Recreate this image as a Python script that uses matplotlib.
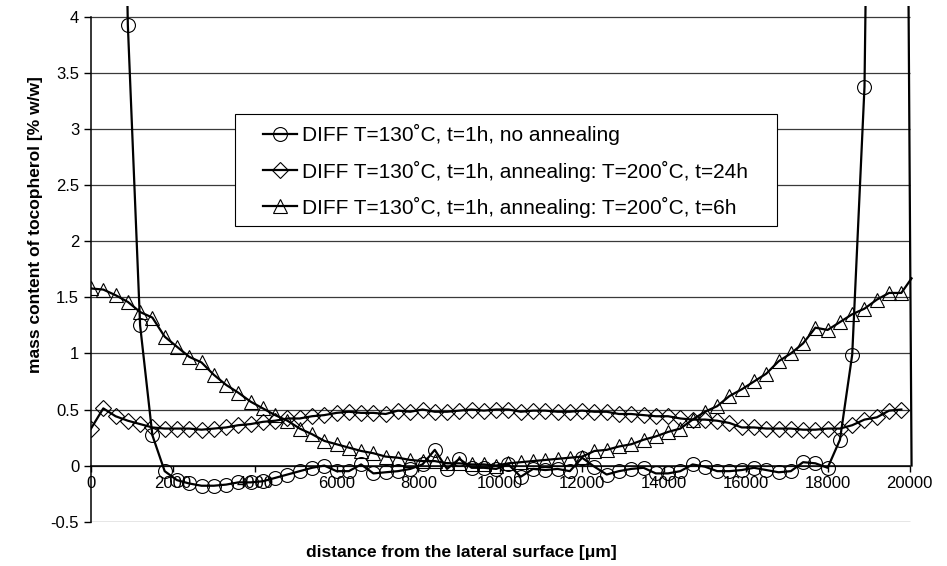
import numpy as np
import matplotlib
matplotlib.use("Agg")
import matplotlib.pyplot as plt
from matplotlib.lines import Line2D
from matplotlib.patches import Rectangle

plt.rcParams['font.family'] = ['Liberation Sans', 'DejaVu Sans']
plt.rcParams['axes.unicode_minus'] = False

# distance from the lateral surface [um], one sample every 300 um
distance = [0, 300, 600, 900, 1200, 1500, 1800, 2100, 2400, 2700, 3000, 3300,
            3600, 3900, 4200, 4500, 4800, 5100, 5400, 5700, 6000, 6300, 6600,
            6900, 7200, 7500, 7800, 8100, 8400, 8700, 9000, 9300, 9600, 9900,
            10200, 10500, 10800, 11100, 11400, 11700, 12000, 12300, 12600,
            12900, 13200, 13500, 13800, 14100, 14400, 14700, 15000, 15300,
            15600, 15900, 16200, 16500, 16800, 17100, 17400, 17700, 18000,
            18300, 18600, 18900, 19200, 19500, 19800]

# no annealing (values above 4 are off the scale, estimated)
no_annealing = [np.nan, np.nan, 10.0, 3.93, 1.25, 0.27, -0.05, -0.13, -0.16, -0.18,
                -0.18, -0.17, -0.15, -0.15, -0.14, -0.11, -0.08, -0.05, -0.02,
                0.00, -0.05, -0.05, 0.01, -0.07, -0.06, -0.05, -0.03, 0.01, 0.14,
                -0.03, 0.06, -0.02, -0.02, -0.03, 0.01, -0.10, -0.03, -0.04,
                -0.03, -0.05, 0.07, -0.01, -0.08, -0.05, -0.03, -0.02, -0.07,
                -0.07, -0.05, 0.01, -0.01, -0.05, -0.05, -0.04, -0.02, -0.04,
                -0.06, -0.05, 0.03, 0.02, -0.02, 0.23, 0.99, 3.38, 12.0, 20.0,
                14.0]

# annealing 200 C, 24 h
anneal_24h = [0.33, 0.51, 0.44, 0.40, 0.37, 0.34, 0.33, 0.33, 0.33, 0.32, 0.33,
              0.34, 0.36, 0.37, 0.39, 0.40, 0.42, 0.42, 0.44, 0.45, 0.47, 0.48,
              0.47, 0.47, 0.46, 0.49, 0.48, 0.50, 0.48, 0.48, 0.49, 0.50, 0.49,
              0.50, 0.50, 0.48, 0.49, 0.49, 0.48, 0.48, 0.49, 0.48, 0.48, 0.46,
              0.46, 0.45, 0.44, 0.44, 0.42, 0.41, 0.41, 0.40, 0.38, 0.34, 0.34,
              0.33, 0.33, 0.33, 0.32, 0.32, 0.33, 0.33, 0.36, 0.41, 0.43, 0.49,
              0.50]

# annealing 200 C, 6 h
anneal_6h = [1.58, 1.57, 1.52, 1.46, 1.37, 1.32, 1.15, 1.06, 0.97, 0.92, 0.81,
             0.72, 0.65, 0.57, 0.51, 0.45, 0.40, 0.33, 0.28, 0.22, 0.19, 0.16,
             0.13, 0.11, 0.08, 0.07, 0.05, 0.04, 0.04, 0.02, 0.02, 0.01, 0.01,
             0.00, 0.02, 0.03, 0.04, 0.05, 0.06, 0.07, 0.08, 0.13, 0.14, 0.17,
             0.19, 0.23, 0.26, 0.30, 0.33, 0.41, 0.48, 0.53, 0.62, 0.68, 0.75,
             0.82, 0.93, 1.00, 1.09, 1.23, 1.21, 1.28, 1.35, 1.40, 1.48, 1.54,
             1.54]

# the curves run on a little past the last marker
end_distance = 20050
no_annealing_end = 0.0
anneal_6h_end = 1.67

labels = ["DIFF T=130˚C, t=1h, no annealing",
          "DIFF T=130˚C, t=1h, annealing: T=200˚C, t=24h",
          "DIFF T=130˚C, t=1h, annealing: T=200˚C, t=6h"]
x_ticks = [0, 2000, 4000, 6000, 8000, 10000, 12000, 14000, 16000, 18000, 20000]
y_ticks = [-0.5, 0, 0.5, 1, 1.5, 2, 2.5, 3, 3.5, 4]

fig = plt.figure(figsize=(9.47, 5.66), dpi=100)
ax = fig.add_axes([0.0961, 0.07845, 0.86864, 0.91095])

ax.hlines(y_ticks, 0, 20000, color='#3a3a3a', lw=0.9, zorder=1)

line_kw = dict(color='black', lw=1.6, zorder=3)
mark_kw = dict(ls='none', mfc='none', mec='black', mew=0.8, zorder=4)

ax.plot(np.append(distance, end_distance), np.append(no_annealing, no_annealing_end), **line_kw)
ax.plot(distance, anneal_24h, **line_kw)
ax.plot(np.append(distance, end_distance), np.append(anneal_6h, anneal_6h_end), **line_kw)

ax.plot(distance, no_annealing, marker='o', ms=10, **mark_kw)
ax.plot(distance, anneal_24h, marker='D', ms=8.3, **mark_kw)
ax.plot(distance, anneal_6h, marker='^', ms=9.5, **mark_kw)

ax.set_xlim(0, 20100)
ax.set_ylim(-0.5, 4.1)
ax.set_xticks(x_ticks)
ax.set_yticks(y_ticks)
ax.set_yticklabels(["-0.5", "0", "0.5", "1", "1.5", "2", "2.5", "3", "3.5", "4"])

for s in ['top', 'right']:
    ax.spines[s].set_visible(False)
ax.spines['bottom'].set_position(('data', 0))
ax.spines['bottom'].set_bounds(0, 20000)
ax.spines['left'].set_bounds(-0.5, 4)
ax.spines['bottom'].set_linewidth(1.1)
ax.spines['left'].set_linewidth(1.1)
ax.tick_params(axis='x', direction='out', length=4.5, width=1, pad=3, labelsize=12)
ax.tick_params(axis='y', direction='out', length=5, width=1, pad=3.5, labelsize=12)
ax.patch.set_alpha(0)

fig.text(461.7 / 947, 1 - 553 / 566, "distance from the lateral surface [μm]",
         ha='center', va='center', fontsize=12.5, fontweight='bold')
fig.text(36 / 947, 1 - 225 / 566, "mass content of tocopherol [% w/w]",
         ha='center', va='center', rotation=90, fontsize=12.5, fontweight='bold')

# legend box
fig.add_artist(Rectangle((235 / 947, 1 - 226 / 566), 542 / 947, 112 / 566,
                         transform=fig.transFigure, fc='white', ec='black',
                         lw=0.8, zorder=5))
handles = [Line2D([], [], color='black', lw=1.6, marker=m, ms=s, mfc='none', mew=0.8)
           for m, s in [('o', 10), ('D', 8.3), ('^', 9.5)]]
leg = fig.legend(handles, labels, loc='center left',
                 bbox_to_anchor=(263 / 947, 1 - 171 / 566),
                 frameon=False, fontsize=15, borderpad=0, borderaxespad=0,
                 handlelength=1.63, handletextpad=0.25, labelspacing=0.72)
leg.set_zorder(6)

plt.savefig("out.png", dpi=100)
